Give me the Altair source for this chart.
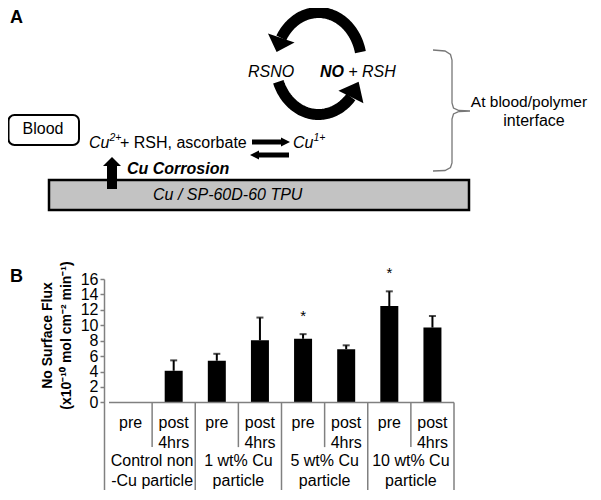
import math
import numpy as np
import pandas as pd
import altair as alt

FONT = "Liberation Sans"
BLACK = "#000000"
GRAY = "#808080"

# ---------------- Panel B: data ----------------
groups = ["Control non\n-Cu particle", "1 wt% Cu\nparticle", "5 wt% Cu\nparticle", "10 wt% Cu\nparticle"]
timepoints = ["pre", "post\n4hrs"]
flux = [0.0, 4.1, 5.4, 8.05, 8.25, 6.9, 12.5, 9.7]
flux_sd = [0.0, 1.35, 0.9, 2.95, 0.6, 0.5, 1.9, 1.5]
significant = [False, False, False, False, True, False, True, False]
y_ticks = [0, 2, 4, 6, 8, 10, 12, 14, 16]
y_title = ["No Surface Flux", "(x10\u207b\u00b9\u2070 mol cm\u207b\u00b2 min\u207b\u00b9)"]

# ---------------- Panel A: schematic labels (anchor in page pixels) ----------------
lbl_normal_left = ["+ RSH, ascorbate", "+"]
lbl_normal_left_xy = [(120, 143), (348.5, 72)]
lbl_normal_center = ["Blood", "interface"]
lbl_normal_center_xy = [(43, 129), (534, 121)]
lbl_side = ["At blood/polymer"]
lbl_side_xy = [(529, 102)]
lbl_italic = ["Cu", "RSNO", "RSH", "Cu", "Cu / SP-60D-60 TPU"]
lbl_italic_xy = [(89, 143), (248, 72), (362, 72), (293, 143), (153, 195)]
lbl_sup = ["2+", "1+"]
lbl_sup_xy = [(109.5, 138), (313.5, 138)]
lbl_bolditalic = ["NO", "Cu Corrosion"]
lbl_bolditalic_xy = [(320, 72), (127, 169)]
lbl_panel = ["A", "B"]
lbl_panel_xy = [(10, 18), (10, 277)]

# ---------------- layout constants ----------------
PX0, PX1 = 104, 459       # page x of panel-B plot edges
PY0, PY1 = 279, 490       # page y of panel-B plot top / table bottom
W, H = PX1 - PX0, PY1 - PY0
YB_MIN = -11.36
TOTAL_W = 585             # whole drawing width (page x 8 .. 593)

XA = alt.Scale(domain=[PX0, PX1], nice=False, zero=False)
YA = alt.Scale(domain=[PY0, PY1], nice=False, zero=False, reverse=True)
XB = alt.Scale(domain=[0, 8], nice=False, zero=False)
YB = alt.Scale(domain=[YB_MIN, 16], nice=False, zero=False)


def xa(f="x"):
    return alt.X(f"{f}:Q", scale=XA, axis=None)


def ya(f="y"):
    return alt.Y(f"{f}:Q", scale=YA, axis=None)


def labels_df(texts, xy):
    return pd.DataFrame({"text": texts, "x": [p[0] for p in xy], "y": [p[1] for p in xy]})


def text_layer(texts, xy, size=16, style="normal", weight="normal", align="left"):
    return alt.Chart(labels_df(texts, xy)).mark_text(
        font=FONT, fontSize=size, fontStyle=style, fontWeight=weight,
        align=align, baseline="middle", color=BLACK
    ).encode(x=xa(), y=ya(), text="text:N")


# ----- cycle arcs (ellipse) -----
CX, CY, RX, RY = 318.5, 63.5, 43, 51


def E(deg):
    t = math.radians(deg)
    return (CX + RX * math.cos(t), CY - RY * math.sin(t))


arc_rows = []
for name, (t0, t1) in {"upper": (13, 150), "lower": (201, 319)}.items():
    for i, t in enumerate(np.linspace(t0, t1, 80)):
        px, py = E(t)
        arc_rows.append({"arc": name, "i": i, "x": px, "y": py})
arcs = pd.DataFrame(arc_rows)


def head(base, tip, width):
    bx, by = base
    tx, ty = tip
    dx, dy = tx - bx, ty - by
    length = math.hypot(dx, dy)
    r = length / width
    return {
        "x": (bx + tx) / 2, "y": (by + ty) / 2,
        "angle": math.degrees(math.atan2(-dx, dy)) % 360,
        "size": width ** 2,
        "path": f"M -1 {-r:.3f} L 1 {-r:.3f} L 0 {r:.3f} Z",
    }


heads = pd.DataFrame([
    head(E(150), E(167), 28),
    head(E(319), E(339), 28),
    head((112, 166), (112, 157), 18),
    head((281, 142), (290, 142), 9),
    head((259, 155), (250, 155), 9),
])

shafts = pd.DataFrame({
    "x": [112, 252, 258.5], "y": [189, 142, 155],
    "x2": [112, 281.5, 289], "y2": [166, 142, 155],
    "w": [10, 5, 5],
})

bracket_pts = [(433, 50), (445, 51), (450.5, 54.5), (452, 60), (452, 103), (453.5, 108),
               (459, 110.5), (470, 111), (459, 111.5), (453.5, 114), (452, 119), (452, 163),
               (450.5, 167.5), (445, 170.5), (433, 171)]
bracket = pd.DataFrame({"i": range(len(bracket_pts)),
                        "x": [p[0] for p in bracket_pts], "y": [p[1] for p in bracket_pts]})

blood_box = pd.DataFrame({"x": [8.5], "x2": [79], "y": [115], "y2": [145]})
base_bar = pd.DataFrame({"x": [49], "x2": [469], "y": [180], "y2": [210]})

panelA = alt.layer(
    alt.Chart(blood_box).mark_rect(fill="white", stroke=BLACK, strokeWidth=2, cornerRadius=6)
    .encode(x=xa(), x2="x2:Q", y=ya(), y2="y2:Q"),
    alt.Chart(base_bar).mark_rect(fill="#c3c3c3", stroke=BLACK, strokeWidth=2.5)
    .encode(x=xa(), x2="x2:Q", y=ya(), y2="y2:Q"),
    alt.Chart(arcs).mark_line(color=BLACK, strokeWidth=11, strokeCap="butt")
    .encode(x=xa(), y=ya(), order="i:Q", detail="arc:N"),
    alt.Chart(bracket).mark_line(color="#777777", strokeWidth=1.3)
    .encode(x=xa(), y=ya(), order="i:Q"),
    alt.Chart(shafts).mark_rule(color=BLACK, strokeCap="butt")
    .encode(x=xa(), y=ya(), x2="x2:Q", y2="y2:Q", strokeWidth=alt.StrokeWidth("w:Q", scale=None)),
    alt.Chart(heads).mark_point(filled=True, color=BLACK, opacity=1, strokeWidth=0)
    .encode(x=xa(), y=ya(), shape=alt.Shape("path:N", scale=None),
            size=alt.Size("size:Q", scale=None), angle=alt.Angle("angle:Q", scale=None)),
    text_layer(lbl_normal_left, lbl_normal_left_xy),
    text_layer(lbl_normal_center, lbl_normal_center_xy, align="center"),
    text_layer(lbl_side, lbl_side_xy, size=15.5, align="center"),
    text_layer(lbl_italic, lbl_italic_xy, style="italic"),
    text_layer(lbl_sup, lbl_sup_xy, size=10.5, style="italic"),
    text_layer(lbl_bolditalic, lbl_bolditalic_xy, style="italic", weight="bold"),
    text_layer(lbl_panel, lbl_panel_xy, size=18, weight="bold"),
)

# ---------------- Panel B ----------------
bars = pd.DataFrame({
    "pos": [i + 0.5 for i in range(len(flux))],
    "flux": flux,
    "top": [f + s for f, s in zip(flux, flux_sd)],
    "sd": flux_sd,
    "sig": significant,
    "zero": 0.0,
})
err = bars[bars["sd"] > 0]
stars = bars[bars["sig"]].assign(star="*", ys=lambda d: d["top"] + 2.85)

sub_lbl = pd.DataFrame({"pos": [i + 0.5 for i in range(2 * len(groups))],
                        "text": [timepoints[i % 2] for i in range(2 * len(groups))],
                        "y": -1.63})
grp_lbl = pd.DataFrame({"pos": [2 * g + 1 for g in range(len(groups))], "text": groups, "y": -6.6})
seps = pd.DataFrame({"pos": [1, 3, 5, 7, 2, 4, 6, 8],
                     "y": 0.0, "y2": [-5.8] * 4 + [YB_MIN] * 4})
hline = pd.DataFrame({"pos": [0], "pos2": [8], "y": [0.0]})

yaxis = alt.Axis(
    values=y_ticks, title=y_title, grid=False,
    titleFont=FONT, titleFontSize=14, titleFontWeight="bold", titleColor=BLACK,
    titleAngle=270, titleAlign="center", titleBaseline="middle", titleLineHeight=19,
    titleX=-57, titleY=56,
    labelFont=FONT, labelFontSize=16, labelColor=BLACK, labelPadding=2, labelOverlap=False,
    tickSize=4, tickColor=GRAY, tickWidth=1.5, domainColor=GRAY, domainWidth=1.5,
)


def xb(f="pos"):
    return alt.X(f"{f}:Q", scale=XB, axis=None)


def yb(f):
    return alt.Y(f"{f}:Q", scale=YB, axis=yaxis)


panelB = alt.layer(
    alt.Chart(bars).mark_bar(size=18, color=BLACK)
    .encode(x=xb(), y=yb("flux"), y2="zero:Q"),
    alt.Chart(err).mark_rule(color=BLACK, strokeWidth=2)
    .encode(x=xb(), y=yb("flux"), y2="top:Q"),
    alt.Chart(err).mark_tick(color=BLACK, orient="horizontal", size=7, thickness=2)
    .encode(x=xb(), y=yb("top")),
    alt.Chart(stars).mark_text(font=FONT, fontSize=15, color=BLACK, baseline="middle", dy=4)
    .encode(x=xb(), y=yb("ys"), text="star:N"),
    alt.Chart(seps).mark_rule(color=GRAY, strokeWidth=1.5)
    .encode(x=xb(), y=yb("y"), y2="y2:Q"),
    alt.Chart(hline).mark_rule(color=GRAY, strokeWidth=1.5)
    .encode(x=xb(), x2="pos2:Q", y=yb("y")),
    alt.Chart(sub_lbl).mark_text(font=FONT, fontSize=16, color=BLACK, baseline="top",
                                 lineBreak="\n", lineHeight=20)
    .encode(x=xb(), y=yb("y"), text="text:N"),
    alt.Chart(grp_lbl).mark_text(font=FONT, fontSize=16, color=BLACK, baseline="top",
                                 lineBreak="\n", lineHeight=20)
    .encode(x=xb(), y=yb("y"), text="text:N"),
)

chart = alt.layer(panelA, panelB).resolve_scale(
    x="independent", y="independent"
).properties(
    width=W, height=H,
    padding={"left": PX0 - 8, "top": PY0 - 8, "right": TOTAL_W - (PX1 - 8), "bottom": 0},
    autosize="none",
).configure_view(stroke=None)

chart.save("out.html", embed_options={"renderer": "svg", "actions": False})
